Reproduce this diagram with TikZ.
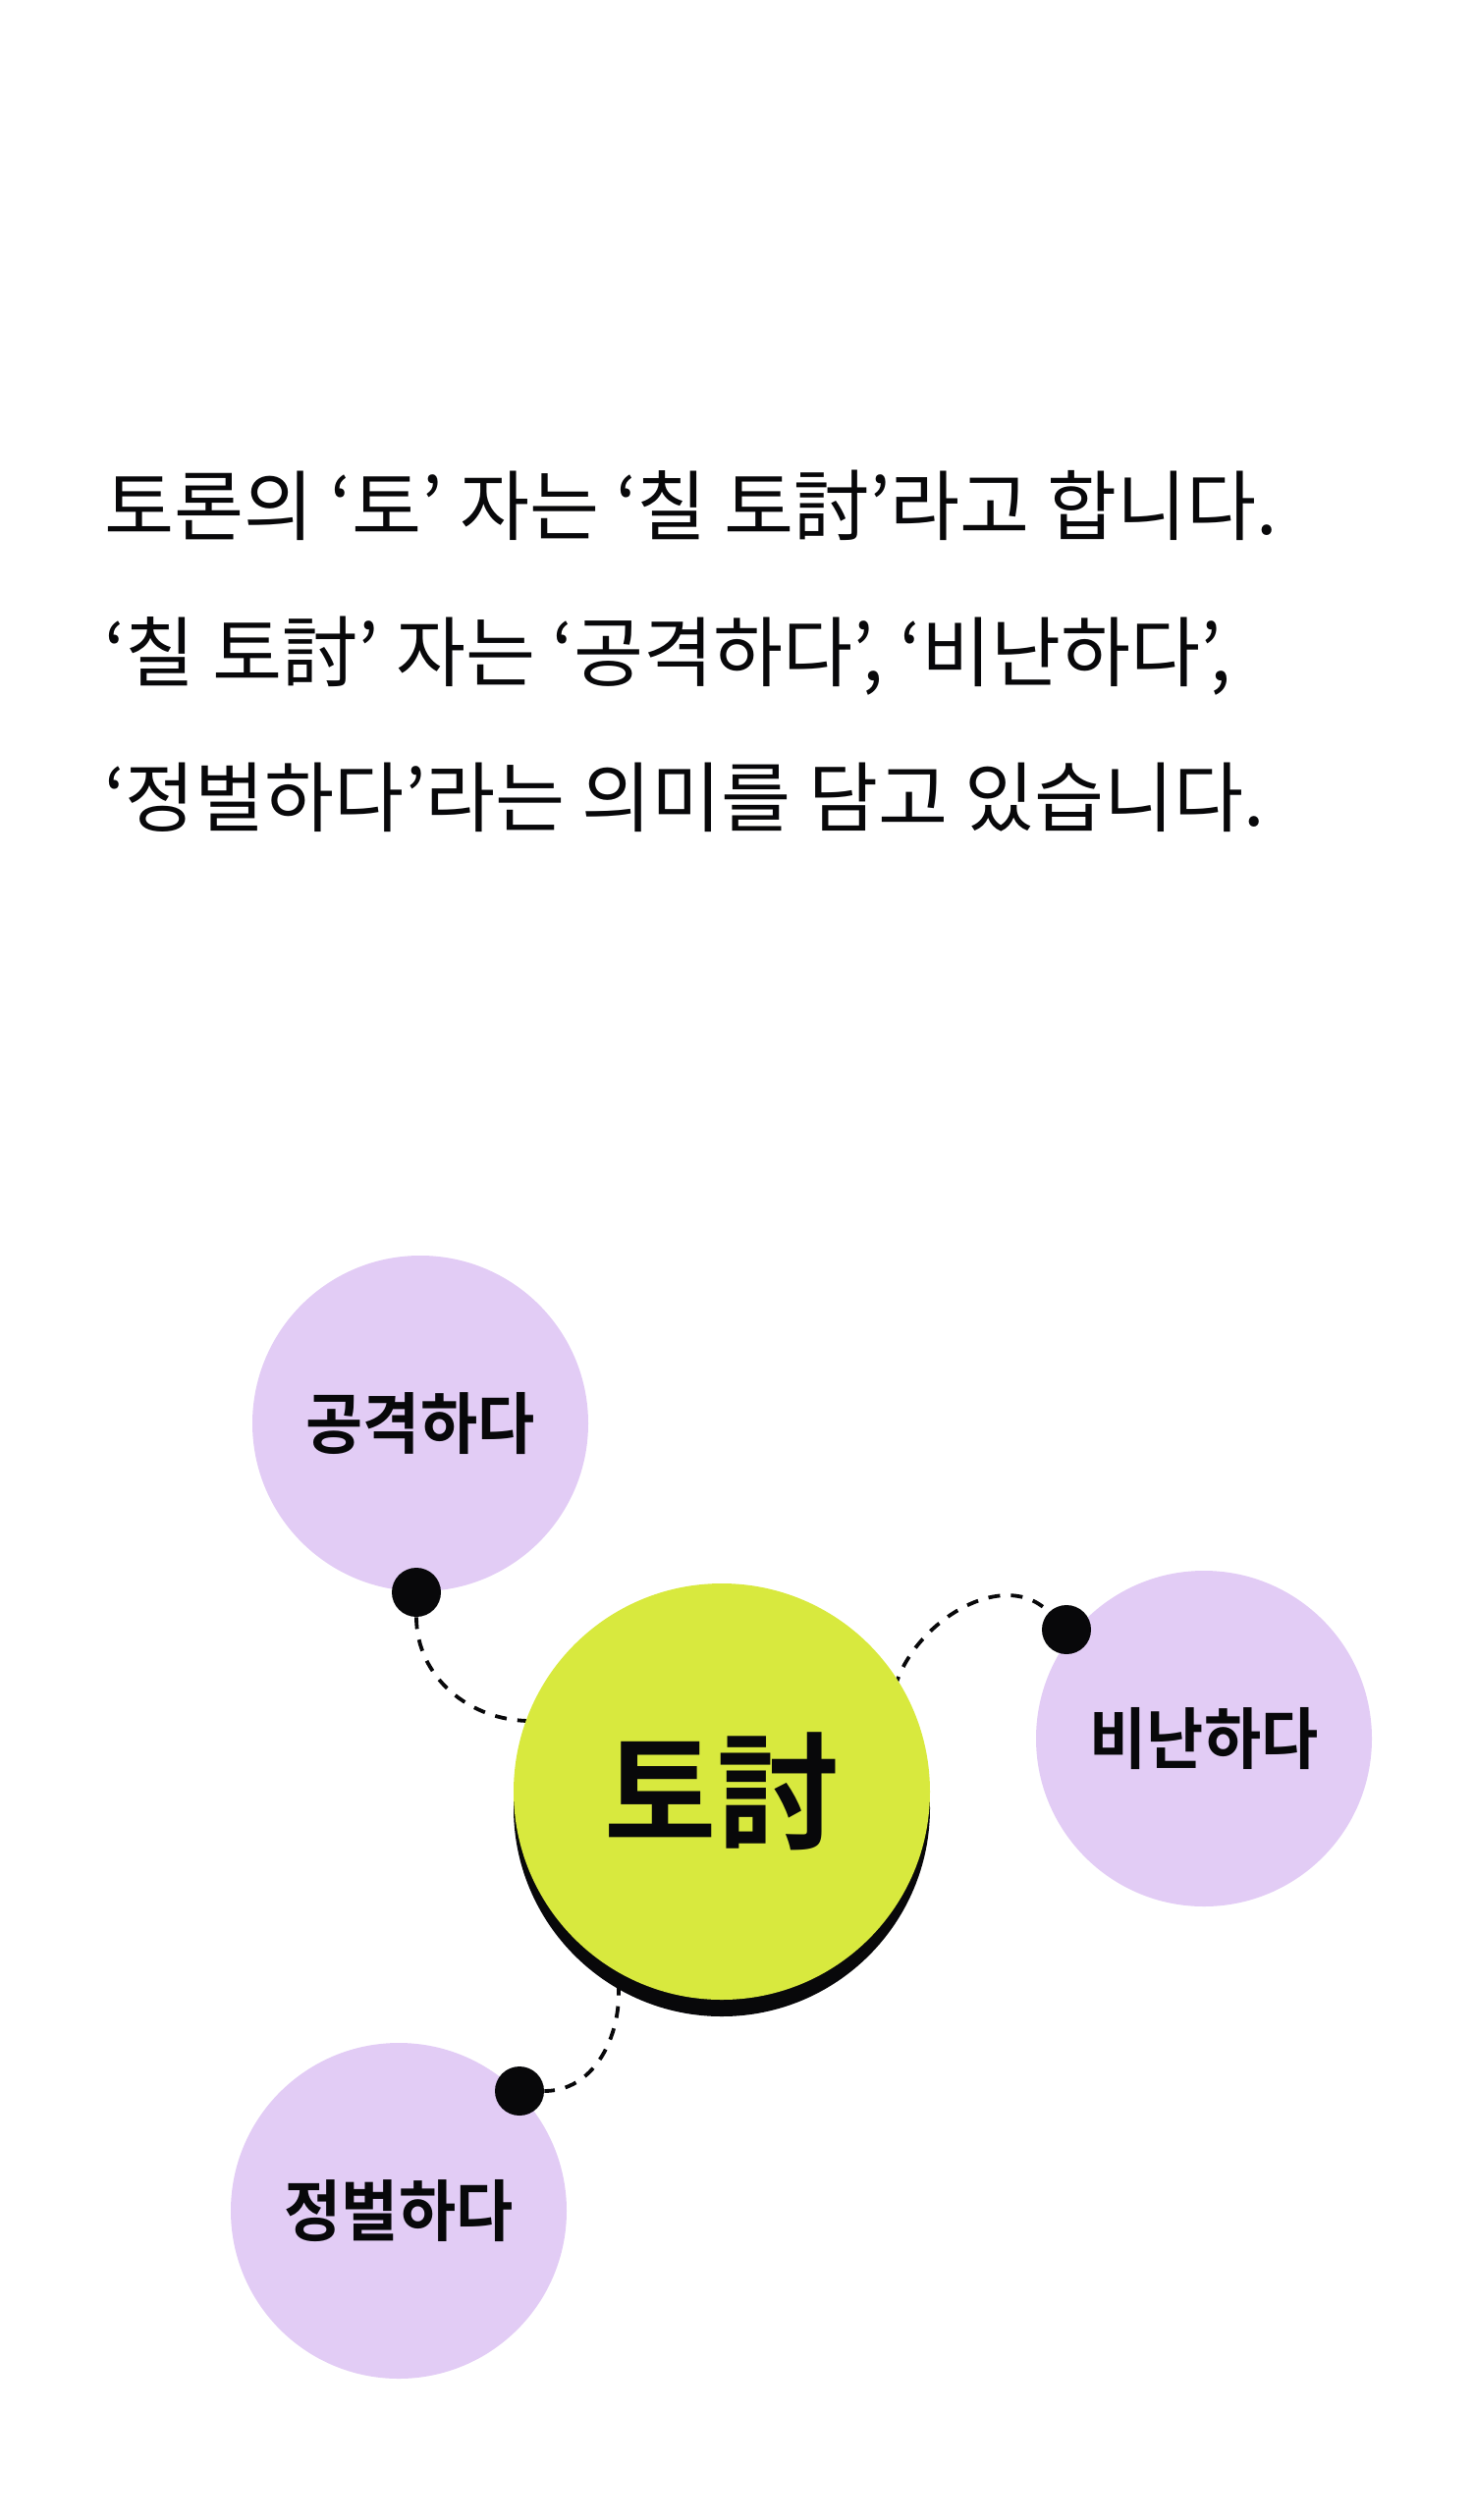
\documentclass[tikz,border=0pt]{standalone}
\usepackage{fontspec}
\newfontfamily\krtext[FakeStretch=0.99]{Noto Sans CJK KR}
\newfontfamily\krbold[FakeStretch=0.93]{Noto Sans CJK KR Bold}
\newfontfamily\krhanja[FakeStretch=0.97]{Noto Sans CJK KR Bold}
\definecolor{lilac}{HTML}{E2CCF5}
\definecolor{lime}{HTML}{D8E93E}
\definecolor{ink}{HTML}{08080A}

\begin{document}
\begin{tikzpicture}[x=0.5pt,y=0.5pt,
  textline/.style={anchor=base west,inner sep=0pt,text=ink,font=\krtext\fontsize{39pt}{39pt}\selectfont},
  bubble/.style={circle,fill=lilac,minimum size=171pt,inner sep=0pt,text=ink,font=\krbold\fontsize{34pt}{34pt}\selectfont},
  pin/.style={circle,fill=ink,minimum size=25pt,inner sep=0pt},
  link/.style={draw=ink,line width=1.9pt,dash pattern=on 6pt off 5.5pt}]
  \useasboundingbox (0,0) rectangle (1500,-2567);
  % text
  \node[textline] (line1) at (106,-545) {토론의 ‘토’ 자는 ‘칠 토討’라고 합니다.};
  \node[textline] (line2) at (106,-693) {‘칠 토討’ 자는 ‘공격하다’, ‘비난하다’,};
  \node[textline] (line3) at (106,-841) {‘정벌하다’라는 의미를 담고 있습니다.};
  % meanings
  \node[bubble] (attack) at (428,-1450) {공격하다};
  \node[bubble] (blame) at (1226,-1771) {비난하다};
  \node[bubble] (punish) at (406,-2252) {정벌하다};
  \node[pin] (pinA) at (424,-1622) {};
  \node[pin] (pinB) at (1086,-1660) {};
  \node[pin] (pinC) at (529,-2130) {};
  \coordinate (endA) at (540,-1753);
  \coordinate (endB) at (908,-1742);
  \coordinate (endC) at (626,-1998);
  \draw[link] (pinA) to[out=-90,in=180] (endA);
  \draw[link] (endB) to[out=90,in=135] (pinB);
  \draw[link] (endC) to[out=-75,in=0] (pinC);
  % center
  \node[circle,fill=ink,minimum size=212pt,inner sep=0pt] (shadow) at (735,-1842) {};
  \node[circle,fill=lime,minimum size=212pt,inner sep=0pt,text=ink,font=\krhanja\fontsize{64pt}{64pt}\selectfont] (main) at (735,-1825) {토討};
\end{tikzpicture}
\end{document}
